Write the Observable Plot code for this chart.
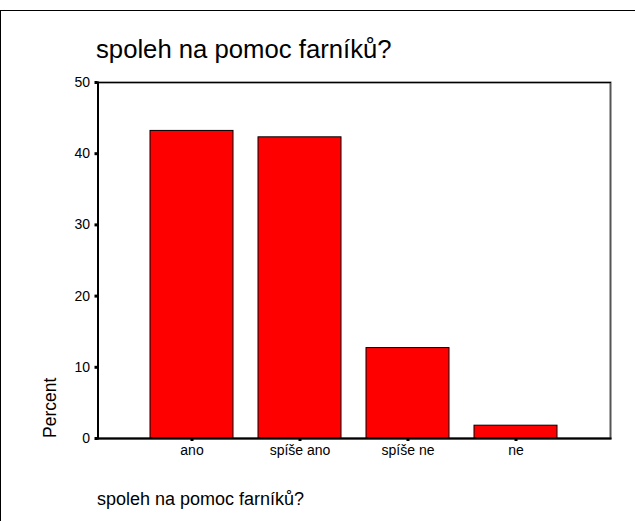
<!DOCTYPE html>
<html>
<head>
<meta charset="utf-8">
<script src="https://cdn.jsdelivr.net/npm/d3@7"></script>
<script src="https://cdn.jsdelivr.net/npm/@observablehq/plot@0.6"></script>
<style>
  html, body { margin: 0; padding: 0; background: #fff; }
  #chart { position: relative; width: 635px; height: 521px; }
  svg { overflow: visible; }
</style>
</head>
<body>
<div id="chart"></div>
<script>
const categories = ["ano", "spíše ano", "spíše ne", "ne"];
const percents = [43.2, 42.3, 12.7, 1.8];
const yTicks = [0, 10, 20, 30, 40, 50];
const titleText = "spoleh na pomoc farníků?";
const captionText = "spoleh na pomoc farníků?";
const yLabel = "Percent";

const data = categories.map((c, i) => ({category: c, percent: percents[i]}));

const W = 635, H = 521;
const font = "'Liberation Sans', Arial, sans-serif";

const chart = Plot.plot({
  width: W,
  height: H,
  marginLeft: 97.5,
  marginRight: 25,
  marginTop: 82,
  marginBottom: 83,
  style: {fontFamily: font, fontSize: "14px", color: "black", background: "white"},
  x: {domain: categories, paddingInner: 0.227, paddingOuter: 0.473, label: null},
  y: {domain: [0, 50], label: null},
  marks: [
    Plot.frame({stroke: "#555", strokeWidth: 2}),
    Plot.barY(data, {x: "category", y: "percent", fill: "#ff0000", stroke: "black", strokeWidth: 1}),
    Plot.frame({anchor: "top", stroke: "black", strokeWidth: 1}),
    Plot.frame({anchor: "left", stroke: "black", strokeWidth: 2}),
    Plot.frame({anchor: "bottom", stroke: "black", strokeWidth: 2}),
    Plot.axisY({ticks: yTicks, tickSize: 3, tickPadding: 5, strokeWidth: 3, fontSize: 14, label: null}),
    Plot.axisX({tickSize: 3, tickPadding: 4, strokeWidth: 3, fontSize: 14, label: null})
  ]
});

document.getElementById("chart").appendChild(chart);

const svg = d3.select(chart);
// outer border (top and left)
svg.append("line").attr("x1", 0).attr("x2", W).attr("y1", 10.5).attr("y2", 10.5)
  .attr("stroke", "black").attr("stroke-width", 1);
svg.append("line").attr("x1", 0.5).attr("x2", 0.5).attr("y1", 10).attr("y2", H)
  .attr("stroke", "black").attr("stroke-width", 1);

svg.append("text").text(titleText)
  .attr("x", 96).attr("y", 58)
  .attr("text-anchor", "start")
  .attr("font-family", font).attr("font-size", 25.7).attr("fill", "black");

svg.append("text").text(captionText)
  .attr("x", 97).attr("y", 505)
  .attr("text-anchor", "start")
  .attr("font-family", font).attr("font-size", 18).attr("fill", "black");

const y = chart.scale("y");
svg.append("text").text(yLabel)
  .attr("transform", `translate(56,${y.apply(0)}) rotate(-90)`)
  .attr("text-anchor", "start")
  .attr("font-family", font).attr("font-size", 17.5).attr("fill", "black");
</script>
</body>
</html>
